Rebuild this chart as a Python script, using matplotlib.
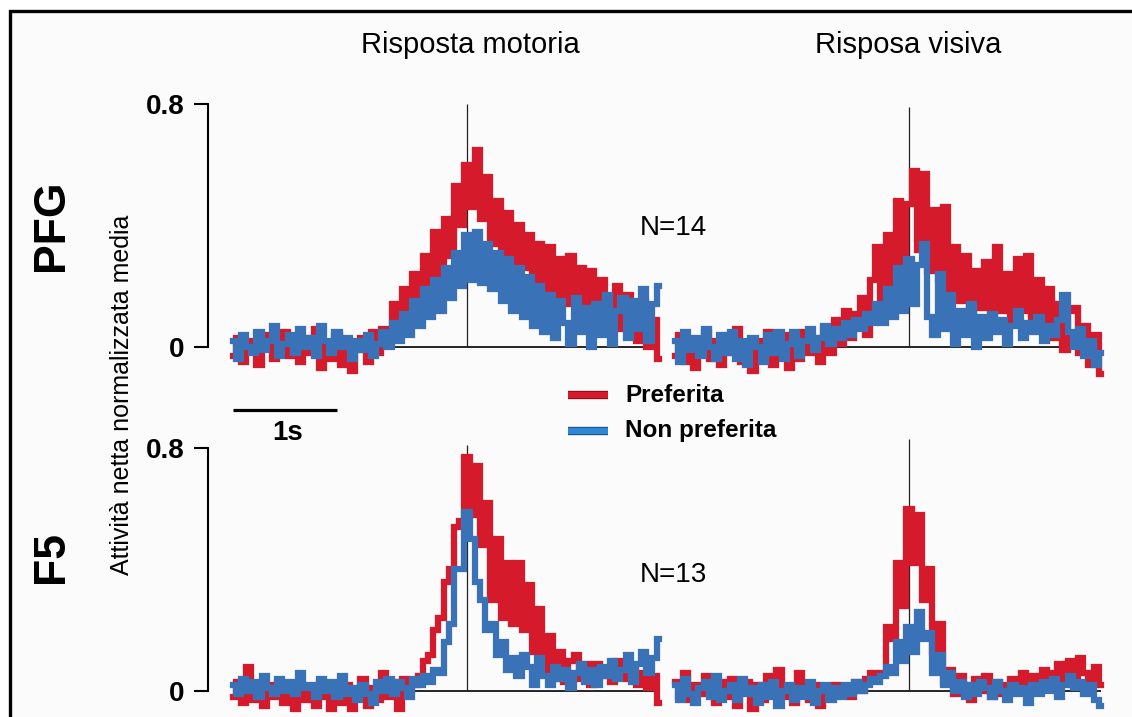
import numpy as np
import matplotlib
matplotlib.use("Agg")
import matplotlib.pyplot as plt
from matplotlib.lines import Line2D
from matplotlib.patches import Rectangle
import matplotlib.patheffects as pe

plt.rcParams['font.family'] = ['Liberation Sans', 'DejaVu Sans']

# PSTH bins (s), aligned on the event at t = 0
BIN = 0.05
T_START = -2.25

# normalized net activity, preferred / non-preferred, per area and epoch
pfg_motor_pref = [
    -0.03, 0.03, -0.05, -0.01, 0.02, -0.06, 0.01, 0.04, -0.04, 0.00,
    0.05, -0.03, 0.01, -0.05, 0.03, -0.02, 0.06, -0.07, 0.00, -0.04,
    0.04, -0.06, 0.02, -0.08, -0.01, 0.03, -0.05, 0.05, -0.02, 0.06,
    0.03, 0.14, 0.06, 0.19, 0.10, 0.24, 0.13, 0.30, 0.20, 0.38,
    0.24, 0.42, 0.30, 0.53, 0.40, 0.60, 0.46, 0.65, 0.42, 0.56,
    0.34, 0.48, 0.26, 0.44, 0.22, 0.40, 0.26, 0.37, 0.20, 0.34,
    0.18, 0.33, 0.16, 0.29, 0.14, 0.30, 0.15, 0.26, 0.11, 0.25,
    0.10, 0.22, 0.12, 0.08, 0.20, 0.06, 0.17, 0.09, 0.02, 0.15,
    0.00, 0.09, -0.04]
pfg_motor_nonpref = [
    0.02, -0.04, 0.04, 0.00, -0.02, 0.05, -0.01, 0.02, 0.07, -0.03,
    0.01, 0.04, -0.02, 0.06, 0.00, 0.03, -0.03, 0.07, 0.02, -0.02,
    0.05, 0.00, 0.03, -0.04, 0.02, -0.01, 0.04, -0.03, 0.01, 0.05,
    0.00, 0.08, 0.02, 0.11, 0.04, 0.15, 0.07, 0.19, 0.10, 0.22,
    0.12, 0.26, 0.16, 0.31, 0.20, 0.37, 0.22, 0.38, 0.21, 0.34,
    0.19, 0.31, 0.15, 0.29, 0.12, 0.26, 0.10, 0.23, 0.07, 0.20,
    0.05, 0.17, 0.03, 0.15, 0.08, 0.01, 0.16, 0.05, 0.13, 0.00,
    0.14, 0.04, 0.17, 0.01, 0.12, 0.16, 0.03, 0.15, 0.06, 0.19,
    0.02, 0.14, 0.20]
pfg_visual_pref = [
    -0.03, 0.04, -0.05, 0.02, -0.07, 0.00, 0.05, -0.04, 0.02, -0.06,
    0.03, -0.02, 0.06, -0.05, 0.01, -0.08, 0.02, -0.03, 0.05, -0.06,
    0.00, 0.04, -0.07, 0.01, -0.04, 0.05, -0.02, 0.03, -0.05, 0.06,
    -0.02, 0.09, 0.01, 0.12, 0.03, 0.11, 0.16, 0.04, 0.22, 0.33,
    0.10, 0.37, 0.18, 0.48, 0.28, 0.47, 0.58, 0.32, 0.57, 0.25,
    0.45, 0.22, 0.46, 0.18, 0.33, 0.15, 0.30, 0.10, 0.25, 0.13,
    0.28, 0.09, 0.33, 0.12, 0.24, 0.08, 0.29, 0.12, 0.30, 0.09,
    0.22, 0.06, 0.19, 0.03, 0.14, -0.01, 0.12, 0.13, -0.02, 0.07,
    -0.06, 0.04, -0.09]
pfg_visual_nonpref = [
    0.02, -0.05, 0.05, -0.01, 0.03, -0.03, 0.06, 0.00, -0.04, 0.04,
    -0.02, 0.05, -0.04, 0.02, -0.06, 0.03, 0.00, -0.05, 0.04, -0.02,
    0.05, -0.04, 0.01, 0.05, -0.03, 0.02, 0.06, -0.01, 0.03, 0.07,
    0.01, 0.06, 0.03, 0.08, 0.04, 0.09, 0.06, 0.11, 0.08, 0.14,
    0.08, 0.19, 0.10, 0.26, 0.12, 0.29, 0.14, 0.27, 0.34, 0.10,
    0.04, 0.24, 0.06, 0.17, 0.01, 0.12, 0.04, 0.14, 0.00, 0.10,
    0.03, 0.11, 0.05, 0.09, 0.01, 0.07, 0.12, 0.03, 0.08, 0.05,
    0.10, 0.02, 0.07, 0.04, 0.09, 0.17, 0.05, 0.00, 0.06, -0.03,
    0.02, -0.06, -0.02]
f5_motor_pref = [
    -0.02, 0.03, -0.04, 0.08, -0.03, 0.01, -0.05, 0.02, -0.02, 0.03,
    -0.04, 0.01, -0.06, 0.02, -0.03, 0.00, -0.05, 0.03, -0.02, -0.06,
    0.01, -0.04, 0.02, -0.06, 0.00, 0.04, -0.05, 0.01, -0.03, 0.06,
    -0.02, 0.03, -0.06, 0.04, 0.00, 0.02, 0.05, 0.10, 0.12, 0.20,
    0.24, 0.36, 0.40, 0.54, 0.56, 0.77, 0.58, 0.74, 0.48, 0.62,
    0.30, 0.50, 0.24, 0.42, 0.22, 0.42, 0.20, 0.35, 0.13, 0.27,
    0.07, 0.18, 0.04, 0.13, 0.03, 0.10, 0.12, 0.04, 0.09, 0.02,
    0.09, 0.05, 0.07, 0.03, 0.10, 0.06, 0.04, 0.08, 0.02, 0.06,
    0.01, 0.05, -0.04]
f5_motor_nonpref = [
    0.02, -0.01, 0.04, 0.00, 0.03, -0.02, 0.05, 0.01, -0.01, 0.04,
    0.00, 0.03, -0.01, 0.06, 0.01, 0.02, -0.02, 0.04, 0.00, 0.03,
    -0.02, 0.05, -0.01, 0.01, -0.03, 0.02, -0.01, -0.04, 0.03, 0.00,
    0.04, -0.01, 0.03, 0.01, -0.02, 0.04, 0.02, 0.05, 0.03, 0.07,
    0.06, 0.16, 0.22, 0.40, 0.40, 0.59, 0.50, 0.36, 0.30, 0.20,
    0.22, 0.12, 0.16, 0.07, 0.11, 0.05, 0.12, 0.08, 0.02, 0.11,
    0.05, 0.02, 0.08, 0.04, 0.07, 0.01, 0.06, 0.09, 0.03, 0.07,
    0.02, 0.08, 0.05, 0.10, 0.04, 0.07, 0.12, 0.03, 0.09, 0.13,
    0.06, 0.11, 0.17]
f5_visual_pref = [
    0.03, -0.02, 0.06, -0.03, 0.02, -0.01, 0.05, 0.00, -0.04, 0.03,
    -0.02, 0.04, -0.05, 0.01, 0.03, -0.06, 0.02, -0.03, 0.05, -0.01,
    0.07, -0.02, 0.01, -0.04, 0.06, 0.00, -0.03, 0.02, -0.05, 0.01,
    -0.02, 0.02, -0.01, 0.01, -0.02, 0.03, 0.00, 0.04, 0.06, 0.05,
    0.06, 0.21, 0.17, 0.42, 0.28, 0.60, 0.42, 0.58, 0.30, 0.40,
    0.13, 0.22, 0.03, 0.07, -0.01, 0.05, 0.02, -0.03, 0.04, 0.00,
    0.05, -0.02, 0.03, -0.01, 0.02, 0.04, 0.00, 0.06, 0.02, 0.05,
    0.03, 0.07, 0.02, 0.06, 0.09, 0.03, 0.10, 0.05, 0.11, 0.06,
    0.04, 0.08, 0.02]
f5_visual_nonpref = [
    0.02, -0.03, 0.04, -0.01, -0.04, 0.01, 0.03, -0.02, 0.05, -0.03,
    0.00, 0.02, -0.03, 0.04, -0.01, 0.01, -0.04, 0.02, -0.02, 0.03,
    -0.05, 0.00, 0.02, -0.03, 0.01, -0.02, 0.03, -0.04, 0.00, 0.02,
    -0.03, 0.01, -0.02, 0.02, -0.01, 0.03, 0.00, 0.02, 0.04, 0.03,
    0.05, 0.08, 0.06, 0.16, 0.10, 0.21, 0.13, 0.26, 0.17, 0.19,
    0.06, 0.12, 0.02, 0.06, 0.00, 0.03, -0.02, 0.02, -0.01, 0.03,
    0.01, -0.02, 0.03, 0.00, -0.03, 0.02, -0.01, 0.01, -0.04, 0.02,
    -0.01, 0.03, 0.00, 0.04, -0.02, 0.02, 0.05, 0.01, 0.03, -0.01,
    0.02, -0.03, -0.05]

areas = ['PFG', 'F5']
epochs = ['Risposta motoria', 'Risposa visiva']
n_cells = [14, 13]
y_ticks = [0, 0.8]
y_ticklabels = ['0', '0.8']
legend_labels = ['Preferita', 'Non preferita']

RED = '#d51a2b'
BLUE = '#3a72b8'

# page layout in pixels
W, H = 1132, 717
PX_PER_S = 104
PX_PER_UNIT = 303.75
XLIM = (-2.6, 1.95)
YLIM = (-0.13, 0.86)

fig = plt.figure(figsize=(W / 100, H / 100), dpi=100)
fig.patch.set_facecolor('white')
fig.add_artist(Rectangle((10 / W, -0.2), 1.2, 1.2 - 11 / H, transform=fig.transFigure,
                         facecolor='#fbfbfb', edgecolor='black', linewidth=2.4, zorder=0))


def panel(x_event, y_zero):
    left = x_event + XLIM[0] * PX_PER_S
    right = x_event + XLIM[1] * PX_PER_S
    top = y_zero - YLIM[1] * PX_PER_UNIT
    bottom = y_zero - YLIM[0] * PX_PER_UNIT
    ax = fig.add_axes([left / W, 1 - bottom / H, (right - left) / W, (bottom - top) / H])
    ax.set_xlim(*XLIM)
    ax.set_ylim(*YLIM)
    ax.patch.set_visible(False)
    for s in ['top', 'right', 'bottom']:
        ax.spines[s].set_visible(False)
    ax.set_xticks([])
    return ax


traces = [[(pfg_motor_pref, pfg_motor_nonpref), (pfg_visual_pref, pfg_visual_nonpref)],
          [(f5_motor_pref, f5_motor_nonpref), (f5_visual_pref, f5_visual_nonpref)]]
event_x = [467, 909]
zero_y = [347, 691]
event_top = [[0.8, 0.79], [0.81, 0.83]]

axes = {}
for r in range(2):
    for c in range(2):
        ax = panel(event_x[c], zero_y[r])
        axes[r, c] = ax
        pref, nonpref = traces[r][c]
        t = T_START + BIN * np.arange(len(pref))
        ax.hlines(0, t[0], t[-1], color='black', lw=1.2, zorder=1)
        ax.vlines(0, 0, event_top[r][c], color='#222222', lw=0.9, zorder=1)
        ax.plot(t, pref, drawstyle='steps-mid', color=RED, lw=4.5,
                solid_joinstyle='miter', zorder=2)
        ax.plot(t, nonpref, drawstyle='steps-mid', color=BLUE, lw=4.5,
                solid_joinstyle='miter', zorder=3)
        if c == 0:
            ax.spines['left'].set_position(('data', -2.49))
            ax.spines['left'].set_bounds(0, 0.8)
            ax.spines['left'].set_linewidth(1.5)
            ax.set_yticks(y_ticks)
            ax.set_yticklabels(y_ticklabels, fontsize=20, fontweight='bold')
            ax.tick_params(axis='y', length=10, width=1.5, pad=7)
        else:
            ax.spines['left'].set_visible(False)
            ax.set_yticks([])

# scale bar (1 s)
ax = axes[0, 0]
ax.hlines(-0.208, T_START, T_START + 1.0, color='black', lw=2.3, clip_on=False)
ax.text(T_START + 0.53, -0.283, '1s', fontsize=20, fontweight='bold',
        ha='center', va='center', clip_on=False)

# column titles, row labels, counts
for c, title in enumerate(epochs):
    fig.text(event_x[c] / W + (3 if c == 0 else -1) / W, 1 - 45 / H, title,
             fontsize=21, ha='center', va='center')
for r, area in enumerate(areas):
    fig.text(52 / W, 1 - (225 if r == 0 else 557) / H, area, fontsize=32,
             fontweight='bold', rotation=90, ha='center', va='center')
    fig.text(640 / W, 1 - (228 if r == 0 else 575) / H, 'N=%d' % n_cells[r],
             fontsize=20, ha='left', va='center')

fig.text(122 / W, 1 - 395 / H, 'Attività netta normalizzata media', fontsize=18,
         rotation=90, ha='center', va='center')

# legend
for i, (lab, col, edge) in enumerate(zip(legend_labels, [RED, '#2e86d6'], ['#8a0f18', '#1b4f86'])):
    y = 1 - (395 + 36 * i) / H
    fig.add_artist(Line2D([568 / W, 608 / W], [y, y], transform=fig.transFigure, color=col,
                          lw=4.5, solid_capstyle='butt',
                          path_effects=[pe.Stroke(linewidth=6, foreground=edge), pe.Normal()]))
    fig.text(625 / W, y, lab, fontsize=17.5, fontweight='bold', ha='left', va='center')

fig.savefig('out.png', dpi=100)
